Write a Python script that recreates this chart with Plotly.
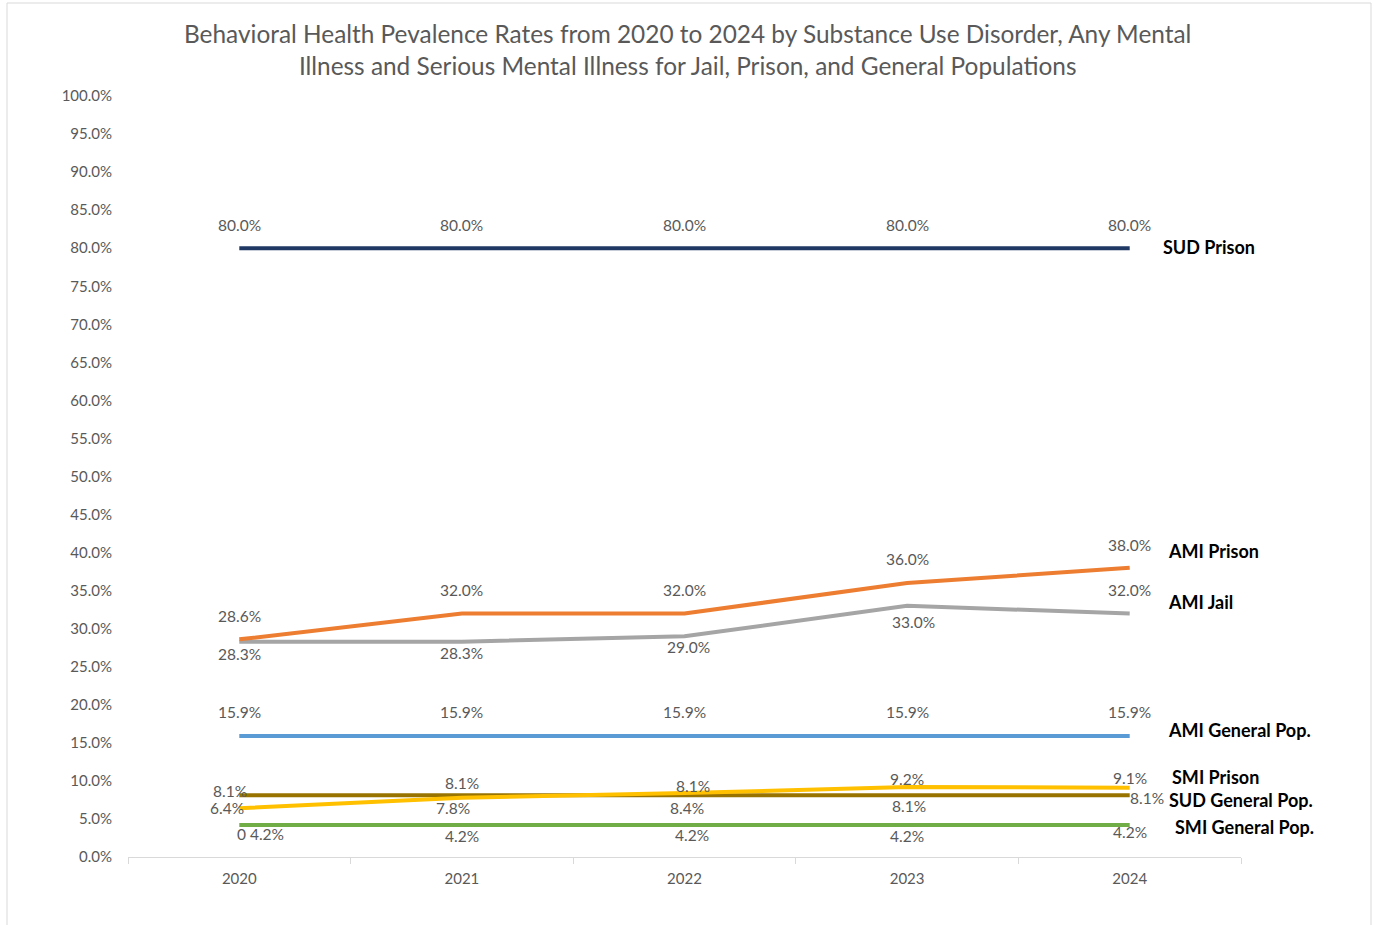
import plotly.graph_objects as go

# Survey years and prevalence rates (percent)
years = ["2020", "2021", "2022", "2023", "2024"]
sud_prison = [80.0, 80.0, 80.0, 80.0, 80.0]
ami_prison = [28.6, 32.0, 32.0, 36.0, 38.0]
ami_jail = [28.3, 28.3, 29.0, 33.0, 32.0]
ami_general = [15.9, 15.9, 15.9, 15.9, 15.9]
sud_general = [8.1, 8.1, 8.1, 8.1, 8.1]
smi_prison = [6.4, 7.8, 8.4, 9.2, 9.1]
smi_general = [4.2, 4.2, 4.2, 4.2, 4.2]

y_ticks = [i * 5 for i in range(21)]

FONT = "Lato"
LABEL_GREY = "#595959"

# (name, values, colour, value-label offsets per point (dx, dy), series-label offset (dx, dy))
series = [
    ("SUD Prison", sud_prison, "#203864",
     [(0, 23)] * 5, (32, 1)),
    ("AMI Jail", ami_jail, "#A5A5A5",
     [(0, -12), (0, -11), (4, -11), (6, -16), (0, 23)], (37, 11)),
    ("AMI Prison", ami_prison, "#ED7D31",
     [(0, 23), (0, 23), (0, 23), (0, 24), (0, 23)], (37, 17)),
    ("AMI General Pop.", ami_general, "#5B9BD5",
     [(0, 24)] * 5, (37, 6)),
    ("SUD General Pop.", sud_general, "#997300",
     [(-9, 4), (0, 12), (8, 9), (2, -11), (17, -3)], (38, -5)),
    ("SMI Prison", smi_prison, "#FFC000",
     [(-12, 0), (-9, -10), (2, -15), (0, 8), (0, 10)], (41, 11)),
    ("SMI General Pop.", smi_general, "#70AD47",
     [(21, -9), (0, -11), (7, -10), (0, -11), (0, -7)], (44, -2)),
]

fig = go.Figure()
annotations = []

for name, vals, colour, offs, name_off in series:
    fig.add_trace(go.Scatter(
        x=years, y=vals, mode="lines", name=name,
        line=dict(color=colour, width=4),
        showlegend=False, hoverinfo="x+y+name",
    ))
    for i, v in enumerate(vals):
        text = f"{v:.1f}%"
        if name == "SMI General Pop." and i == 0:
            text = "0 " + text
        annotations.append(dict(
            x=i, y=v, xref="x", yref="y", text=text, showarrow=False,
            xshift=offs[i][0], yshift=offs[i][1], borderpad=0,
            font=dict(family=FONT, size=15.5, color=LABEL_GREY),
        ))
    annotations.append(dict(
        x=len(vals) - 1, y=vals[-1], xref="x", yref="y", text=f"<b>{name}</b>",
        showarrow=False, xanchor="left", xshift=name_off[0], yshift=name_off[1],
        borderpad=0,
        font=dict(family=FONT, size=18, color="#000000"),
    ))

# Chart title (two lines)
annotations.append(dict(
    x=0.5, y=1.0, xref="paper", yref="paper", yanchor="bottom", yshift=14,
    xshift=3,
    text="Behavioral Health Pevalence Rates from 2020 to 2024 by Substance Use Disorder, Any Mental"
         "<br>Illness and Serious Mental Illness for Jail, Prison, and General Populations",
    showarrow=False, align="center",
    font=dict(family=FONT, size=24.4, color=LABEL_GREY),
))

plot_l, plot_r, plot_t, plot_b = 128, 1241, 96, 857
W, H = 1376, 925
pw, ph = plot_r - plot_l, plot_b - plot_t

fig.update_layout(
    width=W, height=H,
    margin=dict(l=plot_l, r=W - plot_r, t=plot_t, b=H - plot_b),
    paper_bgcolor="white", plot_bgcolor="white",
    annotations=annotations,
    shapes=[dict(
        type="rect", xref="paper", yref="paper",
        x0=(7 - plot_l) / pw, x1=(1371 - plot_l) / pw,
        y0=(plot_b - 935) / ph, y1=(plot_b - 3) / ph,
        line=dict(color="#D9D9D9", width=1), layer="below",
    )],
    xaxis=dict(
        type="category", range=[-0.5, 4.5], tickson="boundaries",
        ticks="outside", ticklen=6, tickcolor="#D9D9D9",
        showline=True, linecolor="#D9D9D9", linewidth=1.3,
        showgrid=False, zeroline=False, ticklabelstandoff=8,
        tickfont=dict(family=FONT, size=15, color=LABEL_GREY),
    ),
    yaxis=dict(
        range=[0, 100], tickvals=y_ticks,
        ticktext=[f"{v:.1f}%" for v in y_ticks],
        showgrid=False, zeroline=False, showline=False, ticks="",
        ticklabelstandoff=15,
        tickfont=dict(family=FONT, size=15, color=LABEL_GREY),
    ),
)

fig.write_html("out.html")
